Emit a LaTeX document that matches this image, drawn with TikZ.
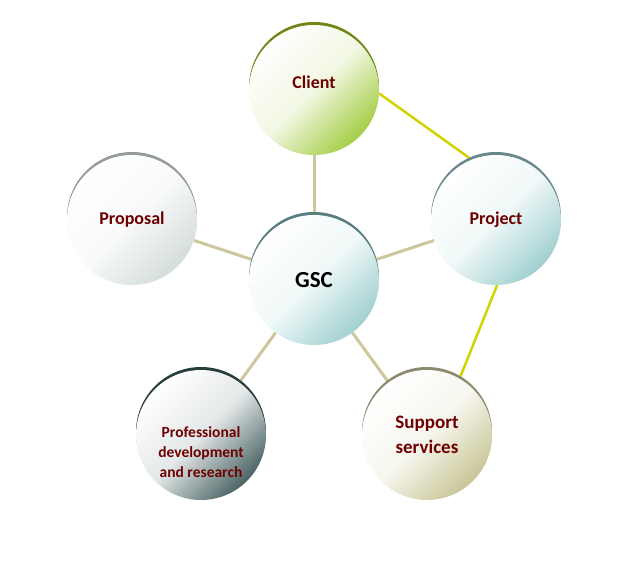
\documentclass[tikz,border=0pt]{standalone}
\usepackage{fontspec}
\setmainfont{Carlito}
\usepackage{xcolor}
\usetikzlibrary{backgrounds}

\definecolor{labelred}{RGB}{110,0,0}
\definecolor{spokecol}{RGB}{205,200,155}
\definecolor{linkcol}{RGB}{210,210,0}
\definecolor{clientcol}{RGB}{165,205,70}
\definecolor{clientrim}{RGB}{110,135,20}
\definecolor{tealcol}{RGB}{160,208,208}
\definecolor{projectrim}{RGB}{105,135,140}
\definecolor{gscrim}{RGB}{90,125,130}
\definecolor{profcol}{RGB}{75,100,100}
\definecolor{profrim}{RGB}{40,60,60}
\definecolor{supportcol}{RGB}{200,198,150}
\definecolor{supportrim}{RGB}{140,138,110}
\definecolor{proposalcol}{RGB}{212,220,220}
\definecolor{proposalrim}{RGB}{150,155,155}

\tikzset{
  bubble/.style 2 args={circle, minimum size=130pt, inner sep=0pt, align=center,
    font=\bfseries\fontsize{18}{24}\selectfont, text=labelred,
    top color=white, bottom color=#1, middle color=#1!15, shading angle=45,
    preaction={fill=#2, transform canvas={yshift=3pt}}},
  spoke/.style={draw=spokecol, line width=3pt},
  link/.style={draw=linkcol, line width=2.5pt}
}

\begin{document}
\begin{tikzpicture}[x=1pt,y=1pt]
    \useasboundingbox (0,0) rectangle (624,560);

    % Centre
    \node[bubble={tealcol}{gscrim}, text=black, font=\bfseries\fontsize{23}{24}\selectfont] (gsc) at (314,280) {GSC};

    % Outer circles
    \node[bubble={clientcol}{clientrim}, label={[yshift=8pt, text=labelred, font=\bfseries\fontsize{18}{20}\selectfont]center:Client}] (client) at (314,470) {};
    \node[bubble={proposalcol}{proposalrim}] (proposal) at (132,340) {Proposal};
    \node[bubble={tealcol}{projectrim}] (project) at (496,340) {Project};
    \node[bubble={profcol}{profrim}, label={[yshift=-17pt, text=labelred, align=center, font=\bfseries\fontsize{15.5}{20}\selectfont]center:Professional\\development\\and research}] (profdev) at (201,125) {};
    \node[bubble={supportcol}{supportrim}, font=\bfseries\fontsize{19}{25}\selectfont] (support) at (427,125) {Support\\services};

    % Connectors
    \begin{pgfonlayer}{background}
        \draw[spoke] (gsc) -- (client);
        \draw[spoke] (gsc) -- (proposal);
        \draw[spoke] (gsc) -- (project);
        \draw[spoke] (gsc) -- (profdev);
        \draw[spoke] (gsc) -- (support);
        \draw[link] (client.-3) -- (project.112);
        \draw[link] (project.-89) -- (support.60);
    \end{pgfonlayer}
\end{tikzpicture}
\end{document}
